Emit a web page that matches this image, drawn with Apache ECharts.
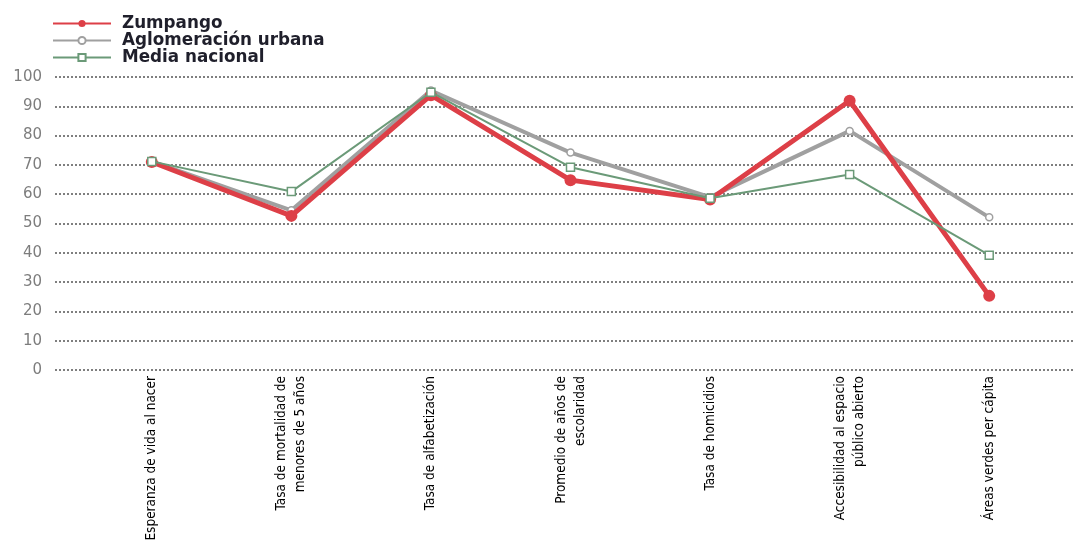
<!DOCTYPE html>
<html>
<head>
<meta charset="utf-8">
<script src="https://cdn.jsdelivr.net/npm/echarts@6/dist/echarts.min.js"></script>
<style>
html,body{margin:0;padding:0;background:#fff;}
#chart{width:1076px;height:542px;}
</style>
</head>
<body>
<div id="chart"></div>
<script>
const categories = [
  "Esperanza de vida al nacer",
  "Tasa de mortalidad de\nmenores de 5 años",
  "Tasa de alfabetización",
  "Promedio de años de\nescolaridad",
  "Tasa de homicidios",
  "Accesibilidad al espacio\npúblico abierto",
  "Áreas verdes per cápita"
];
const seriesNames = ["Zumpango", "Aglomeración urbana", "Media nacional"];
const zumpango = [71, 52.6, 93.8, 64.8, 58.2, 91.9, 25.3];
const aglomeracion = [71.2, 54.5, 95.4, 74.2, 59, 81.6, 52.1];
const mediaNacional = [71.2, 60.9, 94.8, 69.2, 58.6, 66.7, 39.2];
const yTicks = [0, 10, 20, 30, 40, 50, 60, 70, 80, 90, 100];

const chart = echarts.init(document.getElementById('chart'), null, {renderer: 'canvas'});
const gridTop = 77, gridBottom = 172;
chart.setOption({
  animation: false,
  backgroundColor: '#ffffff',
  legend: {
    orient: 'vertical',
    left: 52,
    top: 15,
    padding: 0,
    itemWidth: 58,
    itemHeight: 9,
    itemGap: 0,
    data: seriesNames,
    textStyle: {fontFamily: 'DejaVu Sans', fontWeight: 'bold', fontSize: 16.8, lineHeight: 15.3, color: '#1f1f2b', padding: [0,0,0,6]}
  },
  grid: [
    {left: 55, right: 1, top: gridTop, bottom: gridBottom, outerBoundsMode: 'none', containLabel: false},
    {left: 82, right: 17, top: gridTop, bottom: gridBottom, outerBoundsMode: 'none', containLabel: false}
  ],
  xAxis: [
    {gridIndex: 0, type: 'category', data: categories, show: false},
    {gridIndex: 1, type: 'category', data: categories, boundaryGap: true,
      axisLine: {show: false}, axisTick: {show: false},
      axisLabel: {rotate: 90, interval: 0, margin: 6, fontFamily: 'DejaVu Sans Condensed, sans-serif', fontSize: 13.5, lineHeight: 19, color: '#000'}}
  ],
  yAxis: [
    {gridIndex: 0, type: 'value', min: 0, max: 100, interval: 10,
      axisLine: {show: false}, axisTick: {show: false},
      axisLabel: {margin: 13, fontFamily: 'DejaVu Sans', fontSize: 15, color: '#7d7d7d',
        formatter: v => yTicks.includes(v) ? String(v) : ''},
      splitLine: {show: true, lineStyle: {color: '#555', width: 1.5, type: [2, 2]}}},
    {gridIndex: 1, type: 'value', min: 0, max: 100, interval: 10, show: false, splitLine: {show: false}}
  ],
  series: [
    {name: seriesNames[0], type: 'line', xAxisIndex: 1, yAxisIndex: 1, data: zumpango, z: 4,
      symbol: 'circle', symbolSize: 12,
      lineStyle: {color: '#dd3f47', width: 5},
      itemStyle: {color: '#dd3f47', borderWidth: 0}},
    {name: seriesNames[1], type: 'line', xAxisIndex: 1, yAxisIndex: 1, data: aglomeracion, z: 3,
      symbol: 'circle', symbolSize: 7,
      lineStyle: {color: '#a0a0a0', width: 4},
      itemStyle: {color: '#ffffff', borderColor: '#a0a0a0', borderWidth: 1.5}},
    {name: seriesNames[2], type: 'line', xAxisIndex: 1, yAxisIndex: 1, data: mediaNacional, z: 5,
      symbol: 'rect', symbolSize: 8,
      lineStyle: {color: '#6b9a78', width: 2},
      itemStyle: {color: '#ffffff', borderColor: '#6b9a78', borderWidth: 1.5}}
  ]
});
</script>
</body>
</html>
